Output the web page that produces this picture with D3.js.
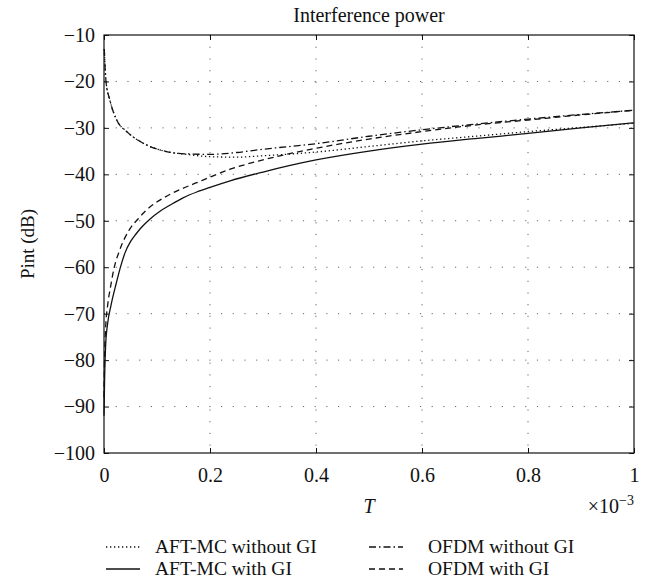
<!DOCTYPE html>
<html>
<head>
<meta charset="utf-8">
<script src="https://cdn.jsdelivr.net/npm/d3@7"></script>
<style>
  body { margin: 0; background: #fff; }
  svg text { font-family: 'Liberation Serif', 'Times New Roman', serif; fill: #111; }
  .grid line { stroke: #666; stroke-width: 1; stroke-dasharray: 1.2, 10.5; }
  .curve { fill: none; stroke: #111; stroke-width: 1.3; }
</style>
</head>
<body>
<svg width="656" height="586"></svg>
<script>
// T axis in units of 1e-3 s (dB)
const aftNoGiT = [0.0005, 0.0038, 0.011, 0.024, 0.043, 0.074, 0.118, 0.156, 0.2, 0.25, 0.3, 0.4, 0.5, 0.6, 0.7, 0.8, 0.9, 1.0];
const aftNoGi  = [-13, -20, -24, -28.3, -30.8, -33.3, -35.1, -35.7, -36.2, -36.3, -36.0, -35.2, -34.0, -32.8, -31.8, -30.8, -29.9, -29.0];

const aftGiT = [0, 0.001, 0.003, 0.007, 0.013, 0.023, 0.032, 0.04, 0.05, 0.06, 0.07, 0.087, 0.105, 0.125, 0.15, 0.175, 0.2, 0.238, 0.3, 0.4, 0.5, 0.6, 0.7, 0.8, 0.9, 1.0];
const aftGi  = [-92, -85, -77, -72, -68.3, -63.5, -59.6, -56.8, -54.5, -52.9, -51.5, -49.6, -48.0, -46.6, -45.0, -43.8, -42.8, -41.4, -39.5, -36.9, -35.0, -33.5, -32.3, -31.2, -30.0, -28.9];

const ofdmNoGiT = [0.0005, 0.0038, 0.011, 0.024, 0.043, 0.074, 0.118, 0.156, 0.2, 0.25, 0.3, 0.4, 0.5, 0.6, 0.7, 0.8, 0.9, 1.0];
const ofdmNoGi  = [-13, -20, -24, -28.3, -30.8, -33.3, -35.1, -35.6, -35.7, -35.3, -34.6, -33.4, -31.8, -30.4, -29.2, -28.1, -27.1, -26.2];

const ofdmGiT = [0, 0.001, 0.0036, 0.0068, 0.013, 0.019, 0.029, 0.048, 0.065, 0.08, 0.112, 0.143, 0.175, 0.2, 0.238, 0.3, 0.4, 0.5, 0.6, 0.7, 0.8, 0.9, 1.0];
const ofdmGi  = [-88, -80, -72, -68.3, -63.8, -60.2, -56.5, -51.9, -49.5, -47.7, -45.1, -43.3, -41.8, -40.6, -38.9, -36.9, -34.4, -32.4, -30.8, -29.4, -28.3, -27.2, -26.2];

const xTicks = [0, 0.2, 0.4, 0.6, 0.8, 1];
const yTicks = [-100, -90, -80, -70, -60, -50, -40, -30, -20, -10];

const legendLabels = ['AFT-MC without GI', 'AFT-MC with GI', 'OFDM without GI', 'OFDM with GI'];

(function (d3) {
    'use strict';
    const svg = d3.select('svg');
    const margin = { left: 104, right: 22, top: 35, bottom: 133 };
    const width = 656 - margin.left - margin.right;
    const height = 586 - margin.top - margin.bottom;
    const serif = "'Liberation Serif', 'Times New Roman', serif";

    const x = d3.scaleLinear().domain([0, 1]).range([0, width]);
    const y = d3.scaleLinear().domain([-100, -10]).range([height, 0]);

    const g = svg.append('g')
        .attr('transform', `translate(${margin.left},${margin.top})`);

    // dotted grid
    const grid = g.append('g').attr('class', 'grid');
    grid.selectAll('.gx').data(xTicks.slice(1, -1))
        .enter().append('line')
          .attr('x1', x).attr('x2', x)
          .attr('y1', 0).attr('y2', height);
    grid.selectAll('.gy').data(yTicks.slice(1, -1))
        .enter().append('line')
          .attr('y1', y).attr('y2', y)
          .attr('x1', 0).attr('x2', width);

    const fmtY = d => d3.format('d')(d).replace('-', '\u2212');
    const styleAxis = (sel) => {
        sel.attr('font-family', serif).attr('font-size', 20);
        sel.select('.domain').remove();
        sel.selectAll('line').attr('stroke', '#111');
        sel.selectAll('text').attr('fill', '#111');
    };

    g.append('g')
        .attr('transform', `translate(0,${height})`)
        .call(d3.axisBottom(x).tickValues(xTicks).tickSize(-5).tickPadding(15)
            .tickFormat(d => d === 0 || d === 1 ? d3.format('d')(d) : d3.format('.1f')(d)))
        .call(styleAxis);
    g.append('g')
        .call(d3.axisLeft(y).tickValues(yTicks).tickSize(-5).tickPadding(9).tickFormat(fmtY))
        .call(styleAxis);
    g.append('g')
        .call(d3.axisTop(x).tickValues(xTicks).tickSize(-5).tickFormat(''))
        .call(styleAxis);
    g.append('g')
        .attr('transform', `translate(${width},0)`)
        .call(d3.axisRight(y).tickValues(yTicks).tickSize(-5).tickFormat(''))
        .call(styleAxis);

    g.append('rect')
        .attr('width', width).attr('height', height)
        .attr('fill', 'none').attr('stroke', '#111').attr('stroke-width', 1.2);

    const series = [
        { t: aftNoGiT, v: aftNoGi, dash: '1.3,2.7' },
        { t: aftGiT, v: aftGi, dash: null },
        { t: ofdmNoGiT, v: ofdmNoGi, dash: '7,3,1.5,3' },
        { t: ofdmGiT, v: ofdmGi, dash: '6,4' }
    ];

    const line = d3.line()
        .x(d => x(d[0]))
        .y(d => y(d[1]))
        .curve(d3.curveMonotoneX);

    g.selectAll('.curve').data(series)
        .enter().append('path')
          .attr('class', 'curve')
          .attr('stroke-dasharray', d => d.dash)
          .attr('d', d => line(d.t.map((t, i) => [t, d.v[i]])));

    // title and axis labels
    svg.append('text')
        .attr('x', margin.left + width / 2).attr('y', 22)
        .attr('text-anchor', 'middle')
        .style('font-size', '20px')
        .text('Interference power');

    svg.append('text')
        .attr('transform', `translate(34,${margin.top + height / 2}) rotate(-90)`)
        .attr('text-anchor', 'middle')
        .style('font-size', '19px')
        .text('Pint (dB)');

    svg.append('text')
        .attr('x', margin.left + width / 2).attr('y', 513)
        .attr('text-anchor', 'middle')
        .style('font-size', '20px')
        .style('font-style', 'italic')
        .text('T');

    const expo = svg.append('text')
        .attr('x', margin.left + width).attr('y', 513)
        .attr('text-anchor', 'end')
        .style('font-size', '20px');
    expo.append('tspan').text('\u00d710');
    expo.append('tspan').attr('dy', -8).style('font-size', '14px').text('\u22123');

    // legend, two columns
    const legend = svg.append('g');
    const items = legend.selectAll('g').data(series)
        .enter().append('g')
          .attr('transform', (d, i) =>
              `translate(${i < 2 ? 106 : 369},${i % 2 === 0 ? 547 : 569})`);
    items.append('line')
        .attr('x1', 0).attr('x2', 34)
        .attr('stroke', '#111').attr('stroke-width', 1.3)
        .attr('stroke-dasharray', d => d.dash);
    items.append('text')
        .attr('x', (d, i) => i < 2 ? 49 : 59)
        .attr('dy', '0.32em')
        .style('font-size', '19.5px')
        .text((d, i) => legendLabels[i]);
}(d3));
</script>
</body>
</html>
